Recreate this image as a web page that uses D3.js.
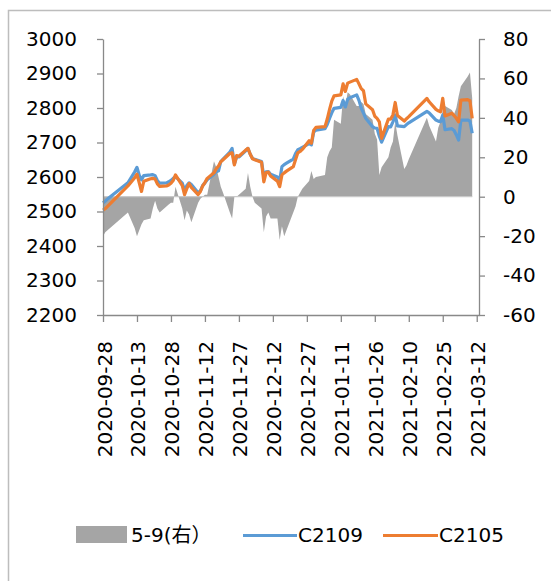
<!DOCTYPE html>
<html>
<head>
<meta charset="utf-8">
<script src="https://cdn.jsdelivr.net/npm/d3@7"></script>
<style>
  body { margin: 0; background: #fff; }
  text { font-family: "DejaVu Sans", "Noto Sans CJK SC", sans-serif; }
</style>
</head>
<body>
<svg id="chart" width="551" height="581"></svg>
<script>
// trading days
const dates = [
  "2020-09-28","2020-09-29","2020-09-30","2020-10-09","2020-10-12","2020-10-13","2020-10-14","2020-10-15","2020-10-16",
  "2020-10-19","2020-10-20","2020-10-21","2020-10-22","2020-10-23","2020-10-26","2020-10-27","2020-10-28","2020-10-29","2020-10-30",
  "2020-11-02","2020-11-03","2020-11-04","2020-11-05","2020-11-06","2020-11-09","2020-11-10","2020-11-11","2020-11-12","2020-11-13",
  "2020-11-16","2020-11-17","2020-11-18","2020-11-19","2020-11-20","2020-11-23","2020-11-24","2020-11-25","2020-11-26","2020-11-27",
  "2020-11-30","2020-12-01","2020-12-02","2020-12-03","2020-12-04","2020-12-07","2020-12-08","2020-12-09","2020-12-10","2020-12-11",
  "2020-12-14","2020-12-15","2020-12-16","2020-12-17","2020-12-18","2020-12-21","2020-12-22","2020-12-23","2020-12-24","2020-12-25",
  "2020-12-28","2020-12-29","2020-12-30","2020-12-31","2021-01-04","2021-01-05","2021-01-06","2021-01-07","2021-01-08",
  "2021-01-11","2021-01-12","2021-01-13","2021-01-14","2021-01-15","2021-01-18","2021-01-19","2021-01-20","2021-01-21","2021-01-22",
  "2021-01-25","2021-01-26","2021-01-27","2021-01-28","2021-01-29","2021-02-01","2021-02-02","2021-02-03","2021-02-04","2021-02-05",
  "2021-02-08","2021-02-09","2021-02-10","2021-02-18","2021-02-19","2021-02-22","2021-02-23","2021-02-24","2021-02-25","2021-02-26",
  "2021-03-01","2021-03-02","2021-03-03","2021-03-04","2021-03-05","2021-03-08","2021-03-09","2021-03-10"
];
const c2109 = [
  2525,2530,2536,2583,2615,2628,2605,2592,2604,
  2606,2607,2604,2590,2582,2583,2586,2590,2596,2601,
  2582,2562,2575,2583,2578,2554,2560,2575,2583,2592,
  2608,2615,2618,2645,2652,2672,2683,2638,2658,2658,
  2676,2683,2666,2654,2651,2645,2601,2615,2616,2608,
  2600,2590,2630,2636,2640,2652,2668,2679,2682,2686,
  2697,2693,2730,2736,2740,2752,2770,2786,2799,
  2802,2822,2803,2825,2830,2838,2822,2800,2785,2770,
  2746,2742,2741,2718,2701,2746,2745,2760,2780,2748,
  2746,2752,2757,2790,2786,2765,2762,2760,2780,2737,
  2740,2735,2722,2707,2765,2765,2762,2727
];
const c2105 = [
  2504,2508,2515,2574,2598,2608,2583,2558,2588,
  2595,2596,2594,2580,2573,2574,2577,2582,2590,2606,
  2575,2549,2566,2581,2570,2549,2558,2574,2584,2596,
  2612,2624,2632,2644,2650,2668,2670,2635,2662,2660,
  2678,2683,2666,2653,2650,2643,2586,2613,2614,2603,
  2588,2572,2606,2612,2617,2630,2650,2670,2674,2680,
  2705,2698,2735,2744,2746,2768,2795,2820,2835,
  2838,2870,2848,2872,2875,2883,2870,2856,2850,2812,
  2795,2776,2770,2760,2712,2768,2768,2780,2816,2778,
  2762,2769,2775,2828,2818,2796,2792,2789,2828,2777,
  2785,2778,2770,2760,2823,2824,2821,2770
];
const spread59 = [
  -20,-18,-17,-8,-16,-20,-17,-14,-12,
  -11,-6,-2,-6,-8,-5,-4,-3,-3,5,
  -6,-12,-7,-9,-13,-3,-1,0,1,1,
  18,15,10,5,2,-8,-11,0,0,1,
  4,12,5,0,-3,-6,-18,-10,-8,-11,
  -11,-22,-15,-20,-17,-8,-5,0,2,4,
  8,13,9,10,11,20,23,25,39,
  37,51,46,53,52,46,46,48,47,42,
  39,32,29,11,15,20,25,28,38,31,
  14,16,19,40,36,28,35,38,44,46,
  44,42,45,51,56,61,63,50
];
const xTicks = ["2020-09-28","2020-10-13","2020-10-28","2020-11-12","2020-11-27","2020-12-12",
  "2020-12-27","2021-01-11","2021-01-26","2021-02-10","2021-02-25","2021-03-12"];
const leftTicks = [2200,2300,2400,2500,2600,2700,2800,2900,3000];
const rightTicks = [-60,-40,-20,0,20,40,60,80];
const seriesNames = ["5-9(右）", "C2109", "C2105"];

const parse = d3.timeParse("%Y-%m-%d");
const fmt = d3.timeFormat("%Y-%m-%d");
const rows = dates.map((d, i) => ({date: parse(d), b: c2109[i], o: c2105[i], s: spread59[i]}));

const svg = d3.select("#chart");
const plotL = 103, plotR = 479, plotT = 39, plotB = 315;
const axisColor = "#898989";

// outer frame (only left/top edges visible)
svg.append("rect")
  .attr("x", 8.5).attr("y", 10.5)
  .attr("width", 700).attr("height", 700)
  .attr("fill", "none").attr("stroke", "#bdbdbd").attr("stroke-width", 1.5);

const x = d3.scaleTime()
  .domain([parse("2020-09-28"), parse("2021-03-13")])
  .range([plotL, plotR]);
const yL = d3.scaleLinear().domain([2200, 3000]).range([plotB, plotT]);
const yR = d3.scaleLinear().domain([-60, 80]).range([plotB, plotT]);

// spread area
svg.append("path")
  .datum(rows)
  .attr("fill", "#a5a5a5")
  .attr("d", d3.area()
    .x(d => x(d.date))
    .y0(yR(0))
    .y1(d => yR(d.s)));

svg.append("line")
  .attr("x1", x(rows[0].date)).attr("x2", x(rows[rows.length - 1].date))
  .attr("y1", yR(0)).attr("y2", yR(0))
  .attr("stroke", "#c9c9c9").attr("stroke-width", 1.2);

const line = key => d3.line().x(d => x(d.date)).y(d => yL(d[key]));

svg.append("path").datum(rows)
  .attr("fill", "none").attr("stroke", "#5b9bd5").attr("stroke-width", 3.2)
  .attr("stroke-linejoin", "round").attr("d", line("b"));

svg.append("path").datum(rows)
  .attr("fill", "none").attr("stroke", "#ed7d31").attr("stroke-width", 3.2)
  .attr("stroke-linejoin", "round").attr("d", line("o"));

// axes
function styleAxis(g) {
  g.select(".domain").attr("stroke", axisColor).attr("stroke-width", 1.3);
  g.selectAll(".tick line").attr("stroke", axisColor).attr("stroke-width", 1.3);
  g.selectAll("text").attr("fill", "#000").style("font-size", "20px");
}

svg.append("g")
  .attr("transform", `translate(${plotL},0)`)
  .call(d3.axisLeft(yL).tickValues(leftTicks).tickFormat(d => String(d))
    .tickSize(6).tickSizeOuter(0).tickPadding(20))
  .call(styleAxis);

svg.append("g")
  .attr("transform", `translate(${plotR},0)`)
  .call(d3.axisRight(yR).tickValues(rightTicks).tickFormat(d => String(d))
    .tickSize(6).tickSizeOuter(0).tickPadding(18))
  .call(styleAxis);

const xAxis = svg.append("g")
  .attr("transform", `translate(0,${plotB})`)
  .call(d3.axisBottom(x).tickValues(xTicks.map(parse)).tickFormat(fmt).tickSize(7).tickSizeOuter(0))
  .call(styleAxis);
xAxis.selectAll("text")
  .attr("transform", "rotate(-90)")
  .attr("x", -26).attr("y", 1)
  .attr("dy", "0.35em")
  .style("text-anchor", "end");

// legend
const lg = svg.append("g");
lg.append("rect").attr("x", 76).attr("y", 526).attr("width", 51).attr("height", 17).attr("fill", "#a5a5a5");
lg.append("text").attr("x", 131).attr("y", 535).attr("dy", "0.35em").style("font-size", "20px").text(seriesNames[0]);
lg.append("line").attr("x1", 243).attr("x2", 297).attr("y1", 535.5).attr("y2", 535.5)
  .attr("stroke", "#5b9bd5").attr("stroke-width", 3);
lg.append("text").attr("x", 298).attr("y", 535).attr("dy", "0.35em").style("font-size", "20px").text(seriesNames[1]);
lg.append("line").attr("x1", 383).attr("x2", 438).attr("y1", 535.5).attr("y2", 535.5)
  .attr("stroke", "#ed7d31").attr("stroke-width", 3);
lg.append("text").attr("x", 439).attr("y", 535).attr("dy", "0.35em").style("font-size", "20px").text(seriesNames[2]);
</script>
</body>
</html>
